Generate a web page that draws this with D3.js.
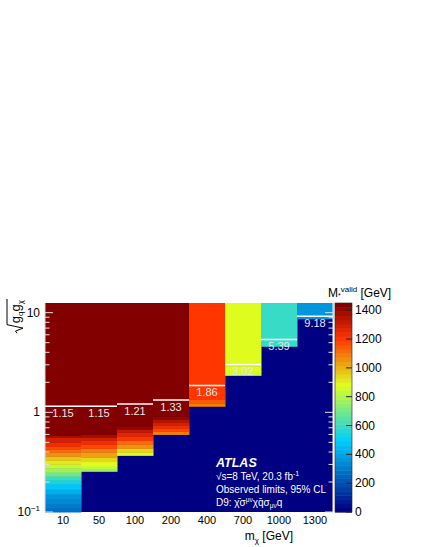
<!DOCTYPE html>
<html>
<head>
<style>
  body { margin: 0; background: #fff; }
  svg text { font-family: "Liberation Sans", Arial, sans-serif; }
</style>
<script src="https://d3js.org/d3.v7.min.js"></script>
</head>
<body>
<script>
// dark matter mass columns and the coupling where the limit sits
const masses = ["10", "50", "100", "200", "400", "700", "1000", "1300"];
const limitCoupling = [1.15, 1.15, 1.21, 1.33, 1.86, 3.02, 5.39, 9.18];
const limitLabels = ["1.15", "1.15", "1.21", "1.33", "1.86", "3.02", "5.39", "9.18"];

// [coupling lower edge, M*valid in GeV], bottom to top
const col10 = [[0.10, 270], [0.109, 290], [0.12, 320], [0.134, 360], [0.151, 420], [0.169, 470],
  [0.19, 530], [0.208, 600], [0.228, 680], [0.25, 760], [0.275, 840], [0.301, 900], [0.33, 980],
  [0.362, 1050], [0.397, 1130], [0.426, 1180], [0.456, 1230], [0.50, 1300], [0.562, 1380], [0.588, 1440]];
const col50 = [[0.256, 780], [0.268, 830], [0.29, 880], [0.32, 950], [0.353, 1020], [0.397, 1100],
  [0.435, 1170], [0.477, 1230], [0.524, 1300], [0.562, 1370], [0.60, 1440]];
const col100 = [[0.37, 870], [0.397, 950], [0.435, 1050], [0.477, 1130], [0.524, 1200], [0.575, 1260],
  [0.63, 1330], [0.675, 1400], [0.72, 1440]];
const col200 = [[0.60, 1100], [0.645, 1170], [0.69, 1230], [0.74, 1290], [0.79, 1350], [0.85, 1410], [0.91, 1440]];
const col400 = [[1.15, 1100], [1.23, 1150], [1.35, 1190], [1.48, 1205], [1.6, 1215]];
const col700 = [[2.35, 850], [2.6, 870], [2.9, 885]];
const col1000 = [[4.6, 600]];
const col1300 = [[8.7, 360]];
const columns = [col10, col50, col100, col200, col400, col700, col1000, col1300];

const yTicks = [0.1, 1, 10];
const zTicks = [0, 200, 400, 600, 800, 1000, 1200, 1400];
const zMax = 1450;
const nLevels = 50;

const W = 423, H = 547;
const mLeft = 45, mRight = 333, mTop = 303, mBottom = 512;

const svg = d3.select("body").append("svg").attr("width", W).attr("height", H);

const x = d3.scaleBand().domain(masses).range([mLeft, mRight]);
const y = d3.scaleLog().domain([0.1, 12.5]).range([mBottom, mTop]);

const palette = d3.scaleLinear()
  .domain([0, 0.34, 0.61, 0.84, 1])
  .range(["rgb(0,0,130)", "rgb(0,207,255)", "rgb(222,255,31)", "rgb(255,51,0)", "rgb(130,0,0)"]);
const levelColor = v => {
  const lev = Math.max(0, Math.min(nLevels - 1, Math.floor(v / zMax * nLevels)));
  return palette(lev / (nLevels - 1));
};

// empty region = minimum of palette
svg.append("rect").attr("x", mLeft).attr("y", mTop)
  .attr("width", mRight - mLeft).attr("height", mBottom - mTop)
  .attr("fill", levelColor(0));

// cells
columns.forEach((col, i) => {
  const rows = col.map((d, k) => ({ lo: d[0], hi: k < col.length - 1 ? col[k + 1][0] : y.domain()[1], v: d[1] }));
  svg.append("g").selectAll("rect").data(rows).enter().append("rect")
    .attr("x", x(masses[i]))
    .attr("width", x.bandwidth() + 0.5)
    .attr("y", d => y(d.hi))
    .attr("height", d => y(d.lo) - y(d.hi) + 0.5)
    .attr("fill", d => levelColor(d.v));
});

// limit lines and labels
const lim = svg.append("g");
masses.forEach((m, i) => {
  lim.append("line")
    .attr("x1", x(m)).attr("x2", x(m) + x.bandwidth())
    .attr("y1", y(limitCoupling[i])).attr("y2", y(limitCoupling[i]))
    .attr("stroke", "#fff").attr("stroke-width", 1.5);
  lim.append("text")
    .attr("x", x(m) + x.bandwidth() / 2)
    .attr("y", y(limitCoupling[i]) + 11)
    .attr("text-anchor", "middle")
    .attr("font-size", 11).attr("fill", "#e8e8e8")
    .text(limitLabels[i]);
});

// frame
svg.append("line").attr("x1", mLeft).attr("x2", mLeft).attr("y1", mTop).attr("y2", mBottom)
  .attr("stroke", "#d8d8d8").attr("stroke-width", 1);
svg.append("line").attr("x1", mRight).attr("x2", mRight).attr("y1", mTop).attr("y2", mBottom)
  .attr("stroke", "#f0f0f0").attr("stroke-width", 1);

// y axis ticks (inside, both sides)
const minor = [];
[0.1, 1].forEach(dec => d3.range(2, 10).forEach(k => minor.push(dec * k)));
const tk = svg.append("g").attr("stroke", "#e0e0e0").attr("stroke-width", 1);
minor.forEach(v => {
  tk.append("line").attr("x1", mLeft).attr("x2", mLeft + 4.5).attr("y1", y(v)).attr("y2", y(v));
  tk.append("line").attr("x1", mRight - 4.5).attr("x2", mRight).attr("y1", y(v)).attr("y2", y(v));
});
yTicks.forEach(v => {
  tk.append("line").attr("x1", mLeft).attr("x2", mLeft + 8).attr("y1", y(v)).attr("y2", y(v));
  tk.append("line").attr("x1", mRight - 8).attr("x2", mRight).attr("y1", y(v)).attr("y2", y(v));
});

// y tick labels
const yl = svg.append("g").attr("font-size", 12).attr("text-anchor", "end");
yl.append("text").attr("x", 40).attr("y", y(10) + 4).text("10");
yl.append("text").attr("x", 40).attr("y", y(1) + 4).text("1");
const t01 = yl.append("text").attr("x", 40).attr("y", y(0.1) + 4);
t01.append("tspan").text("10");
t01.append("tspan").attr("dy", -5).attr("font-size", 8).text("−1");

// x tick labels
svg.append("g").selectAll("text").data(masses).enter().append("text")
  .attr("x", d => x(d) + x.bandwidth() / 2)
  .attr("y", 524)
  .attr("text-anchor", "middle")
  .attr("font-size", 11)
  .text(d => d);

// x title
const xt = svg.append("text").attr("x", 293).attr("y", 540).attr("text-anchor", "end").attr("font-size", 12);
xt.append("tspan").text("m");
xt.append("tspan").attr("font-size", 8).attr("dy", 3).text("χ");
xt.append("tspan").attr("dy", -3).text(" [GeV]");

// y title with radical
const yt = svg.append("g").attr("transform", "translate(20,300) rotate(-90)");
const ytt = yt.append("text").attr("text-anchor", "end").attr("font-size", 13);
ytt.append("tspan").text("g");
ytt.append("tspan").attr("font-size", 8).attr("dy", 3).text("q");
ytt.append("tspan").attr("dy", -3).text("g");
ytt.append("tspan").attr("font-size", 8).attr("dy", 3).text("χ");
const w = ytt.node().getComputedTextLength();
yt.append("path")
  .attr("d", `M${-w - 10},-3 L${-w - 8},-4.5 L${-w - 5},3 L${-w - 1.5},-13 L1,-13`)
  .attr("fill", "none").attr("stroke", "#000").attr("stroke-width", 1);

// colour bar
const zx0 = 335, zx1 = 352;
const z = d3.scaleLinear().domain([0, zMax]).range([mBottom, mTop]);
const bands = d3.range(nLevels);
svg.append("g").selectAll("rect").data(bands).enter().append("rect")
  .attr("x", zx0).attr("width", zx1 - zx0)
  .attr("y", d => z((d + 1) * zMax / nLevels))
  .attr("height", d => z(d * zMax / nLevels) - z((d + 1) * zMax / nLevels) + 0.5)
  .attr("fill", d => palette(d / (nLevels - 1)));
svg.append("rect").attr("x", zx0).attr("y", mTop).attr("width", zx1 - zx0).attr("height", mBottom - mTop)
  .attr("fill", "none").attr("stroke", "#222").attr("stroke-width", 0.6);
const zg = svg.append("g");
zTicks.forEach(v => {
  zg.append("line").attr("x1", zx1 - 6).attr("x2", zx1).attr("y1", z(v)).attr("y2", z(v))
    .attr("stroke", "#222").attr("stroke-width", 1);
  zg.append("text").attr("x", zx1 + 3).attr("y", z(v) + 4).attr("font-size", 12).text(v);
});
const zt = svg.append("text").attr("x", 328).attr("y", 297).attr("font-size", 12);
zt.append("tspan").text("M");
zt.append("tspan").attr("font-size", 7).attr("dy", 1).text("*");
zt.append("tspan").attr("font-size", 8).attr("dy", -6).text("valid");
zt.append("tspan").attr("dy", 5).text(" [GeV]");

// ATLAS labels
const lab = svg.append("g").attr("fill", "#fff");
lab.append("text").attr("x", 216).attr("y", 467).attr("font-size", 12.5)
  .attr("font-weight", "bold").attr("font-style", "italic").text("ATLAS");
const l2 = lab.append("text").attr("x", 216).attr("y", 480).attr("font-size", 10);
l2.append("tspan").text("√s=8 TeV, 20.3 fb");
l2.append("tspan").attr("font-size", 7).attr("dy", -4).text("-1");
lab.append("text").attr("x", 216).attr("y", 493).attr("font-size", 10).text("Observed limits, 95% CL");
const l4 = lab.append("text").attr("x", 216).attr("y", 506).attr("font-size", 10);
l4.append("tspan").text("D9: χ\u0304σ");
l4.append("tspan").attr("font-size", 6.5).attr("dy", -4).text("μν");
l4.append("tspan").attr("dy", 4).text("χq\u0304σ");
l4.append("tspan").attr("font-size", 6.5).attr("dy", 2).text("μν");
l4.append("tspan").attr("dy", -2).text("q");
</script>
</body>
</html>
